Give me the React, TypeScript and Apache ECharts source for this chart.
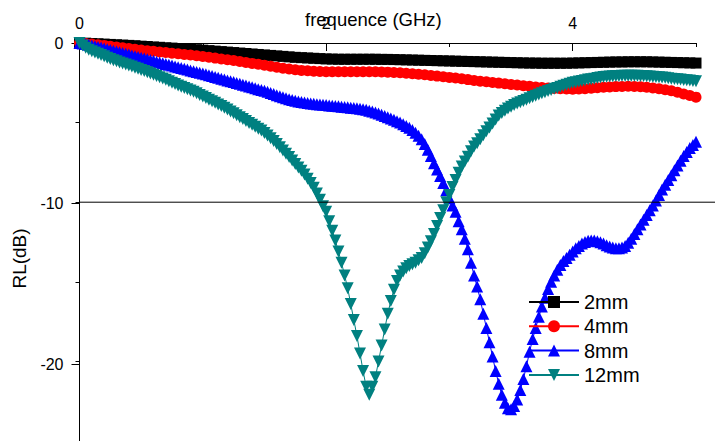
import React, { useEffect, useRef } from "react";
import * as echarts from "echarts";

const seriesNames = ["2mm", "4mm", "8mm", "12mm"];
const xTickLabels = ["0", "2", "4"];
const yTickLabels = ["0", "-10", "-20"];

// frequency grids (GHz)
const freqCoarse = Array.from({ length: 101 }, (_, i) => +(i * 0.05).toFixed(2));
const freqFine = Array.from({ length: 201 }, (_, i) => +(i * 0.025).toFixed(3));

// RL (dB) at freqCoarse
const rl2mm = [
  0, -0.01, -0.03, -0.05, -0.07, -0.09, -0.11, -0.13, -0.15, -0.17,
  -0.2, -0.22, -0.25, -0.27, -0.3, -0.32, -0.35, -0.37, -0.4, -0.42,
  -0.45, -0.48, -0.51, -0.54, -0.57, -0.6, -0.63, -0.66, -0.69, -0.72,
  -0.75, -0.78, -0.81, -0.84, -0.87, -0.9, -0.92, -0.94, -0.96, -0.98,
  -1.0, -1.01, -1.02, -1.02, -1.02, -1.02, -1.02, -1.02, -1.02, -1.03,
  -1.03, -1.04, -1.05, -1.06, -1.07, -1.08, -1.09, -1.1, -1.11, -1.12,
  -1.13, -1.14, -1.15, -1.16, -1.17, -1.18, -1.19, -1.2, -1.21, -1.22,
  -1.23, -1.24, -1.25, -1.26, -1.26, -1.27, -1.27, -1.27, -1.27, -1.27,
  -1.26, -1.25, -1.24, -1.23, -1.22, -1.21, -1.2, -1.19, -1.19, -1.18,
  -1.18, -1.18, -1.18, -1.19, -1.2, -1.21, -1.22, -1.23, -1.24, -1.25,
  -1.26,
];

const rl4mm = [
  0, -0.03, -0.07, -0.11, -0.15, -0.2, -0.25, -0.3, -0.35, -0.4,
  -0.44, -0.48, -0.52, -0.56, -0.6, -0.64, -0.68, -0.72, -0.76, -0.8,
  -0.85, -0.9, -0.95, -1.0, -1.05, -1.1, -1.16, -1.22, -1.28, -1.34,
  -1.4, -1.46, -1.52, -1.58, -1.63, -1.68, -1.72, -1.75, -1.77, -1.79,
  -1.8, -1.8, -1.8, -1.8, -1.8, -1.8, -1.8, -1.8, -1.81, -1.82,
  -1.83, -1.85, -1.87, -1.9, -1.93, -1.96, -2.0, -2.04, -2.08, -2.12,
  -2.16, -2.2, -2.25, -2.3, -2.35, -2.4, -2.44, -2.48, -2.52, -2.56,
  -2.6, -2.64, -2.68, -2.72, -2.76, -2.8, -2.83, -2.86, -2.88, -2.89,
  -2.9, -2.89, -2.87, -2.84, -2.81, -2.78, -2.76, -2.74, -2.73, -2.72,
  -2.73, -2.75, -2.78, -2.82, -2.87, -2.93, -3.0, -3.1, -3.2, -3.3,
  -3.4,
];

// RL (dB) at freqFine
const rl8mm = [
  0, -0.03, -0.07, -0.11, -0.16, -0.2, -0.25, -0.29, -0.34, -0.39,
  -0.44, -0.49, -0.54, -0.58, -0.63, -0.68, -0.73, -0.78, -0.83, -0.88,
  -0.92, -0.97, -1.02, -1.07, -1.12, -1.17, -1.22, -1.27, -1.32, -1.37,
  -1.42, -1.47, -1.52, -1.57, -1.62, -1.67, -1.72, -1.77, -1.82, -1.87,
  -1.92, -1.97, -2.02, -2.08, -2.13, -2.18, -2.24, -2.29, -2.35, -2.4,
  -2.45, -2.51, -2.56, -2.62, -2.67, -2.73, -2.78, -2.84, -2.9, -2.95,
  -3.0, -3.07, -3.14, -3.21, -3.28, -3.35, -3.41, -3.47, -3.53, -3.58,
  -3.63, -3.67, -3.71, -3.74, -3.77, -3.8, -3.82, -3.84, -3.86, -3.88,
  -3.9, -3.92, -3.94, -3.96, -3.98, -4.0, -4.02, -4.04, -4.06, -4.08,
  -4.1, -4.13, -4.16, -4.2, -4.25, -4.3, -4.36, -4.43, -4.5, -4.58,
  -4.66, -4.74, -4.82, -4.91, -5.0, -5.1, -5.21, -5.33, -5.47, -5.63,
  -5.82, -6.05, -6.35, -6.7, -7.1, -7.55, -7.95, -8.35, -8.8, -9.25,
  -9.75, -10.2, -10.6, -11.2, -11.7, -12.3, -12.95, -13.8, -14.6, -15.3,
  -16.1, -17.0, -17.9, -18.8, -19.7, -20.6, -21.4, -22.1, -22.6, -22.95,
  -23.0, -22.8, -22.4, -21.8, -21.1, -20.3, -19.4, -18.6, -17.9, -17.2,
  -16.55, -16.0, -15.45, -15.0, -14.6, -14.25, -13.95, -13.7, -13.5, -13.3,
  -13.1, -12.9, -12.75, -12.6, -12.5, -12.42, -12.4, -12.4, -12.45, -12.52,
  -12.6, -12.7, -12.78, -12.85, -12.9, -12.9, -12.85, -12.75, -12.55, -12.3,
  -12.0, -11.7, -11.4, -11.1, -10.8, -10.5, -10.2, -9.9, -9.55, -9.2,
  -8.9, -8.6, -8.3, -8.0, -7.7, -7.4, -7.1, -6.85, -6.6, -6.4,
  -6.2,
];

const rl12mm = [
  0, -0.15, -0.3, -0.42, -0.52, -0.6, -0.68, -0.76, -0.84, -0.92,
  -1.0, -1.08, -1.15, -1.22, -1.28, -1.35, -1.41, -1.48, -1.55, -1.62,
  -1.69, -1.76, -1.83, -1.91, -1.99, -2.07, -2.15, -2.23, -2.31, -2.4,
  -2.49, -2.58, -2.67, -2.75, -2.83, -2.91, -2.99, -3.07, -3.16, -3.26,
  -3.36, -3.46, -3.56, -3.66, -3.76, -3.86, -3.96, -4.07, -4.18, -4.3,
  -4.42, -4.54, -4.66, -4.78, -4.9, -5.02, -5.14, -5.26, -5.38, -5.5,
  -5.65, -5.81, -5.98, -6.16, -6.35, -6.55, -6.75, -6.95, -7.16, -7.38,
  -7.6, -7.82, -8.02, -8.26, -8.52, -8.8, -9.1, -9.45, -9.85, -10.25,
  -10.6, -11.2, -11.8, -12.4, -13.1, -13.8, -14.6, -15.4, -16.4, -17.4,
  -18.4, -19.5, -20.6, -21.6, -22.1, -21.6, -21.0, -20.0, -19.0, -18.0,
  -17.0, -16.2, -15.5, -14.95, -14.6, -14.35, -14.15, -14.0, -13.9, -13.8,
  -13.65, -13.5, -13.2, -12.85, -12.45, -12.0, -11.5, -11.0, -10.5, -10.0,
  -9.55, -9.05, -8.6, -8.15, -7.75, -7.45, -7.15, -6.8, -6.5, -6.3,
  -6.05, -5.8, -5.55, -5.3, -5.05, -4.8, -4.55, -4.4, -4.25, -4.12,
  -4.0, -3.9, -3.8, -3.72, -3.65, -3.56, -3.47, -3.39, -3.31, -3.24,
  -3.16, -3.09, -3.02, -2.95, -2.88, -2.82, -2.75, -2.68, -2.62, -2.56,
  -2.5, -2.46, -2.42, -2.38, -2.34, -2.3, -2.27, -2.24, -2.2, -2.17,
  -2.14, -2.12, -2.1, -2.09, -2.08, -2.07, -2.06, -2.05, -2.05, -2.05,
  -2.05, -2.06, -2.07, -2.08, -2.09, -2.1, -2.12, -2.13, -2.15, -2.17,
  -2.19, -2.21, -2.24, -2.26, -2.28, -2.3, -2.32, -2.34, -2.36, -2.38,
  -2.4,
];

const threshold = -10;

const FONT = "'Liberation Sans', Arial, sans-serif";

export default function App() {
  const ref = useRef<HTMLDivElement>(null);
  useEffect(() => {
    if (!ref.current) return;
    const chart = echarts.init(ref.current, undefined, { renderer: "svg" });
    const pairs = (xs: number[], ys: number[]) => ys.map((v, i) => [xs[i], v]);
    const left = 79.5;
    const pxPerGHz = 123.3;
    const pxPerDb = 16.05;
    const top = 43;
    const mk = (
      name: string,
      data: number[][],
      color: string,
      symbol: string,
      size: number,
      rotate = 0
    ) => ({
      name,
      type: "line",
      xAxisIndex: 0,
      yAxisIndex: 0,
      data,
      symbol,
      symbolSize: size,
      symbolRotate: rotate,
      showAllSymbol: true,
      clip: false,
      lineStyle: { color, width: 1 },
      itemStyle: { color },
      emphasis: { disabled: true },
    });
    const title = {
      type: "text",
      left: 305,
      top: 10,
      style: { text: "frequence (GHz)", fontSize: 18.5, fill: "#000", fontFamily: FONT },
      z: 50,
    };
    chart.setOption({
      animation: false,
      backgroundColor: "#fff",
      textStyle: { fontFamily: FONT },
      grid: [
        { left, top, width: 5 * pxPerGHz, height: 25 * pxPerDb },
        { left, top, width: 4 * pxPerGHz, height: 20 * pxPerDb },
      ],
      xAxis: [
        {
          type: "value",
          gridIndex: 0,
          position: "top",
          min: 0,
          max: 5,
          interval: 1,
          axisLine: { show: true, lineStyle: { color: "#000", width: 1 } },
          axisTick: { show: true, inside: true, length: 4, lineStyle: { color: "#000" } },
          axisLabel: { show: false },
          splitLine: { show: false },
        },
        {
          type: "value",
          gridIndex: 1,
          position: "top",
          min: 0,
          max: 4,
          interval: 2,
          axisLine: { show: false },
          axisTick: { show: true, inside: true, length: 8, lineStyle: { color: "#000" } },
          axisLabel: {
            show: true,
            margin: 12,
            color: "#000",
            fontSize: 16,
            fontFamily: FONT,
            formatter: (v: number) => xTickLabels[Math.round(v / 2)] ?? "",
          },
          splitLine: { show: false },
        },
      ],
      yAxis: [
        {
          type: "value",
          gridIndex: 0,
          min: -25,
          max: 0,
          interval: 5,
          axisLine: { show: true, lineStyle: { color: "#000", width: 1 } },
          axisTick: { show: true, inside: false, length: 4, lineStyle: { color: "#000" } },
          axisLabel: { show: false },
          splitLine: { show: false },
        },
        {
          type: "value",
          gridIndex: 1,
          min: -20,
          max: 0,
          interval: 10,
          name: "RL(dB)",
          nameLocation: "middle",
          nameRotate: 90,
          nameGap: 44,
          nameTextStyle: { fontSize: 19, color: "#000", fontFamily: FONT, padding: [0, 0, 0, -110] },
          axisLine: { show: false },
          axisTick: { show: true, inside: false, length: 8, lineStyle: { color: "#000" } },
          axisLabel: {
            show: true,
            margin: 16,
            color: "#000",
            fontSize: 16,
            fontFamily: FONT,
            formatter: (v: number) => yTickLabels[Math.round(-v / 10)] ?? "",
          },
          splitLine: { show: false },
        },
      ],
      legend: {
        orient: "vertical",
        left: 523,
        top: 287,
        itemWidth: 50,
        itemHeight: 15,
        itemGap: 4.3,
        textStyle: { fontSize: 20, color: "#000", fontFamily: FONT, lineHeight: 20 },
        data: seriesNames,
      },
      graphic: [title],
      series: [
        mk(seriesNames[0], pairs(freqCoarse, rl2mm), "#000000", "rect", 11),
        mk(seriesNames[1], pairs(freqCoarse, rl4mm), "#ff0000", "circle", 11),
        mk(seriesNames[2], pairs(freqFine, rl8mm), "#0000ff", "triangle", 12),
        mk(seriesNames[3], pairs(freqFine, rl12mm), "#008080", "triangle", 12, 180),
      ],
    });
    const p = chart.convertToPixel({ gridIndex: 0 }, [0, threshold]) as number[];
    chart.setOption({
      graphic: [
        title,
        {
          type: "line",
          shape: { x1: p[0], y1: p[1], x2: 715, y2: p[1] },
          style: { stroke: "#000", lineWidth: 1 },
          z: 100,
        },
      ],
    });
    return () => chart.dispose();
  }, []);
  return (
    <div
      ref={ref}
      style={{ position: "fixed", left: 0, top: 0, width: 715, height: 441, background: "#fff" }}
    />
  );
}
